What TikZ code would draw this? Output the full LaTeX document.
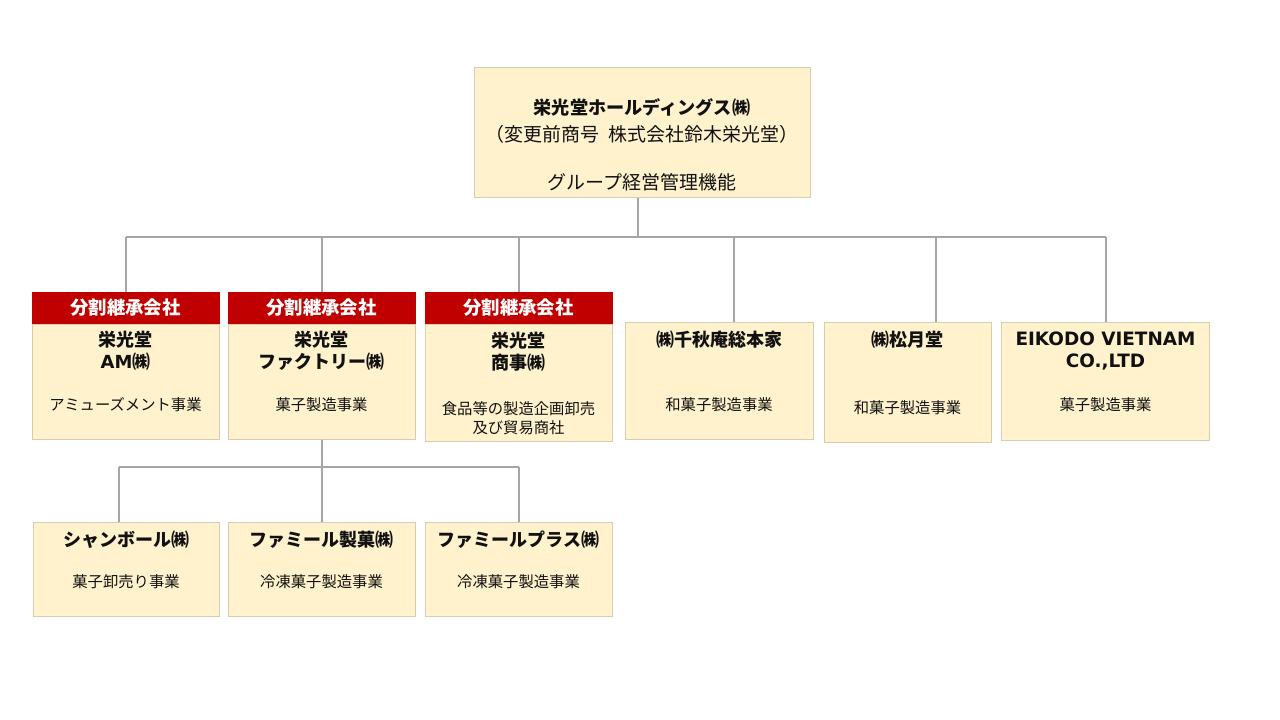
\documentclass[tikz,border=0pt]{standalone}
\usepackage{fontspec}
\setmainfont{Noto Sans CJK JP}
\newfontfamily\latinfont{DejaVu Sans}
\begin{document}
\begin{tikzpicture}[x=0.75pt,y=-0.75pt,
  box/.style={draw=boxline,fill=cream,line width=0.75pt,inner sep=0pt,anchor=center},
  hdr/.style={fill=hdrred,draw=hdrred,line width=0.75pt,inner sep=0pt,anchor=center,text=white,font=\fontsize{13.8pt}{15pt}\selectfont\bfseries},
  ttl/.style={inner sep=0pt,anchor=center,text=txt,font=\fontsize{13.5pt}{16.5pt}\selectfont\bfseries,align=center},
  sub/.style={inner sep=0pt,anchor=center,text=txt,font=\fontsize{11.5pt}{14.5pt}\selectfont,align=center},
  conn/.style={draw=connline,line width=1.5pt}]
\definecolor{cream}{HTML}{FFF2CC}
\definecolor{boxline}{HTML}{D6CCB4}
\definecolor{hdrred}{HTML}{C00000}
\definecolor{connline}{HTML}{A6A6A6}
\definecolor{txt}{HTML}{111111}
\useasboundingbox[fill=white] (0,0) rectangle (1280,720);

\coordinate (bus) at (0,237);
\coordinate (bus2) at (0,467);

% top box
\node[box,minimum width={336*0.75pt},minimum height={130*0.75pt}] (top) at (642,133) {};
\node[ttl,font=\fontsize{13.6pt}{16.5pt}\selectfont\bfseries] (topt1) at (642,107) {栄光堂ホールディングス㈱};
\node[sub,font=\fontsize{14.2pt}{16.5pt}\selectfont] (topt2) at (642,134) {（変更前商号\hspace{0.5em}株式会社鈴木栄光堂）};
\node[sub,font=\fontsize{14.2pt}{16.5pt}\selectfont] (topt3) at (642,182) {グループ経営管理機能};

% level 2
\node[hdr,minimum width={187*0.75pt},minimum height={32*0.75pt}] (amh) at (125.5,308) {分割継承会社};
\node[box,minimum width={187*0.75pt},minimum height={115*0.75pt}] (am) at (125.5,381.5) {};
\node[hdr,minimum width={187*0.75pt},minimum height={32*0.75pt}] (fah) at (321.5,308) {分割継承会社};
\node[box,minimum width={187*0.75pt},minimum height={115*0.75pt}] (fa) at (321.5,381.5) {};
\node[hdr,minimum width={187*0.75pt},minimum height={32*0.75pt}] (shh) at (518.5,308) {分割継承会社};
\node[box,minimum width={187*0.75pt},minimum height={117*0.75pt}] (sh) at (518.5,382.5) {};
\node[box,minimum width={188*0.75pt},minimum height={117*0.75pt}] (se) at (719,380.5) {};
\node[box,minimum width={167*0.75pt},minimum height={120*0.75pt}] (so) at (907.5,382) {};
\node[box,minimum width={208*0.75pt},minimum height={118*0.75pt}] (ei) at (1105.5,381) {};

\node[ttl] (amt) at (125.5,351) {栄光堂\\{\latinfont\bfseries AM}㈱};
\node[sub] (ams) at (125.5,405) {アミューズメント事業};
\node[ttl] (fat) at (321.5,351) {栄光堂\\ファクトリー㈱};
\node[sub] (fas) at (321.5,405) {菓子製造事業};
\node[ttl] (sht) at (518.5,352) {栄光堂\\商事㈱};
\node[sub] (shs) at (518.5,418) {食品等の製造企画卸売\\及び貿易商社};
\node[ttl] (set) at (719,340) {㈱千秋庵総本家};
\node[sub] (ses) at (719,405) {和菓子製造事業};
\node[ttl] (sot) at (907.5,340) {㈱松月堂};
\node[sub] (sos) at (907.5,408) {和菓子製造事業};
\node[ttl,font=\fontsize{13.8pt}{16.5pt}\selectfont\latinfont\bfseries] (eit) at (1105.5,351) {EIKODO VIETNAM\\CO.,LTD};
\node[sub] (eis) at (1105.5,405) {菓子製造事業};

% level 3
\node[box,minimum width={186*0.75pt},minimum height={94*0.75pt}] (sa) at (126,569) {};
\node[box,minimum width={187*0.75pt},minimum height={94*0.75pt}] (fm) at (321.5,569) {};
\node[box,minimum width={187*0.75pt},minimum height={94*0.75pt}] (fp) at (518.5,569) {};
\node[ttl] (sat) at (126,540) {シャンボール㈱};
\node[sub] (sas) at (126,582) {菓子卸売り事業};
\node[ttl] (fmt) at (321.5,540) {ファミール製菓㈱};
\node[sub] (fms) at (321.5,582) {冷凍菓子製造事業};
\node[ttl] (fpt) at (518.5,540) {ファミールプラス㈱};
\node[sub] (fps) at (518.5,582) {冷凍菓子製造事業};

% connector lines
\draw[conn] ([xshift=-3pt]top.south) -- ([xshift=-3pt]top.south |- bus);
\draw[conn] (amh.north |- bus) -- (ei.north |- bus);
\draw[conn] (amh.north |- bus) -- (amh.north);
\draw[conn] (fah.north |- bus) -- (fah.north);
\draw[conn] (shh.north |- bus) -- (shh.north);
\draw[conn] ([xshift=11pt]se.north |- bus) -- ([xshift=11pt]se.north);
\draw[conn] ([xshift=21pt]so.north |- bus) -- ([xshift=21pt]so.north);
\draw[conn] (ei.north |- bus) -- (ei.north);

\draw[conn] (fa.south) -- (fa.south |- bus2);
\draw[conn] ([xshift=-5pt]sa.north |- bus2) -- (fp.north |- bus2);
\draw[conn] ([xshift=-5pt]sa.north |- bus2) -- ([xshift=-5pt]sa.north);
\draw[conn] (fm.north |- bus2) -- (fm.north);
\draw[conn] (fp.north |- bus2) -- (fp.north);
\end{tikzpicture}
\end{document}
